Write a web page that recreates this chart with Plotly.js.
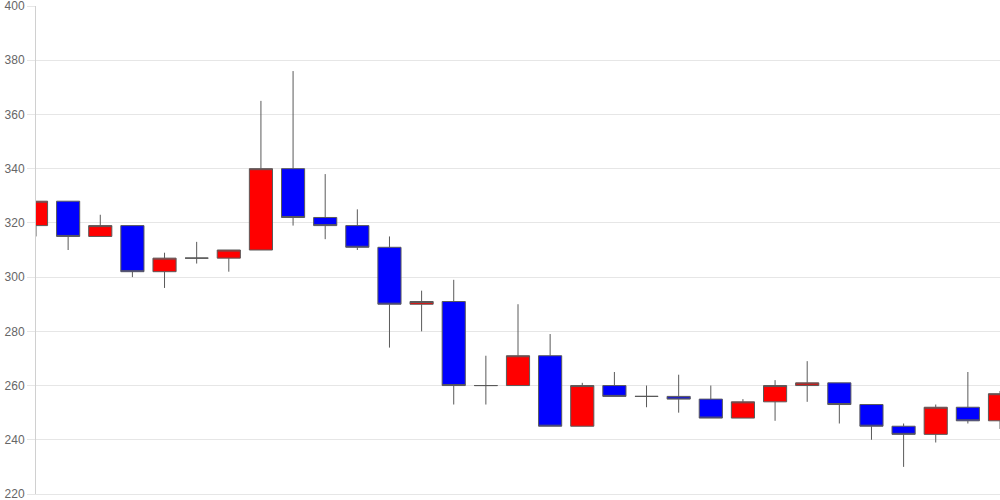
<!DOCTYPE html>
<html>
<head>
<meta charset="utf-8">
<script src="https://cdn.plot.ly/plotly-3.0.1.min.js"></script>
<style>html,body{margin:0;padding:0;background:#fff;}#chart{width:1000px;height:500px;}</style>
</head>
<body>
<div id="chart"></div>
<script>
const idx   = [0,1,2,3,4,5,6,7,8,9,10,11,12,13,14,15,16,17,18,19,20,21,22,23,24,25,26,27,28,29,30];
const open  = [319,328,315,319,302,307,307,310,340,322,319,311,290,291,260,260,271,245,260,256,256,255,248,254,260,261,253,245,242,252,247];
const high  = [328,328,323,319,309,313,310,365,376,338,325,315,295,299,271,290,279,261,265,260,264,260,255,262,269,261,253,246,253,265,258];
const low   = [315,310,315,300,296,305,302,310,319,314,310,274,280,253,253,260,245,245,256,252,250,248,248,247,254,246,240,230,239,246,244];
const close = [328,315,319,302,307,307,310,340,322,319,311,290,291,260,260,271,245,260,256,256,255,248,254,260,261,253,245,242,252,247,257];
const yTicks = [220,240,260,280,300,320,340,360,380,400];

const trace = {
  type: 'candlestick',
  x: idx, open: open, high: high, low: low, close: close,
  increasing: {fillcolor: '#ff0000', line: {color: '#5a5a5a', width: 1}},
  decreasing: {fillcolor: '#0000ff', line: {color: '#5a5a5a', width: 1}},
  whiskerwidth: 0,
  hoverinfo: 'none'
};

const layout = {
  width: 1000, height: 500,
  margin: {l: 36, r: 0, t: 6, b: 6, pad: 0},
  paper_bgcolor: '#ffffff', plot_bgcolor: '#ffffff',
  showlegend: false,
  boxgap: 0.28, boxgroupgap: 0,
  xaxis: {
    range: [0, 30], showgrid: false, zeroline: false, showticklabels: false,
    ticks: '', showline: true, linecolor: '#e6e6e6', linewidth: 1,
    rangeslider: {visible: false}, fixedrange: true
  },
  yaxis: {
    range: [220, 400], tickvals: yTicks, ticktext: yTicks.map(String),
    showgrid: true, gridcolor: '#e6e6e6', gridwidth: 1, zeroline: false,
    showline: true, linecolor: '#d0d0d0', linewidth: 1,
    ticks: 'outside', ticklen: 8, tickcolor: '#e6e6e6',
    ticklabeloverflow: 'allow',
    tickfont: {family: 'Liberation Sans, Arial, sans-serif', size: 12, color: '#666666'},
    fixedrange: true
  },
  font: {family: 'Liberation Sans, Arial, sans-serif'}
};

Plotly.newPlot('chart', [trace], layout, {displayModeBar: false, staticPlot: true});
</script>
</body>
</html>
